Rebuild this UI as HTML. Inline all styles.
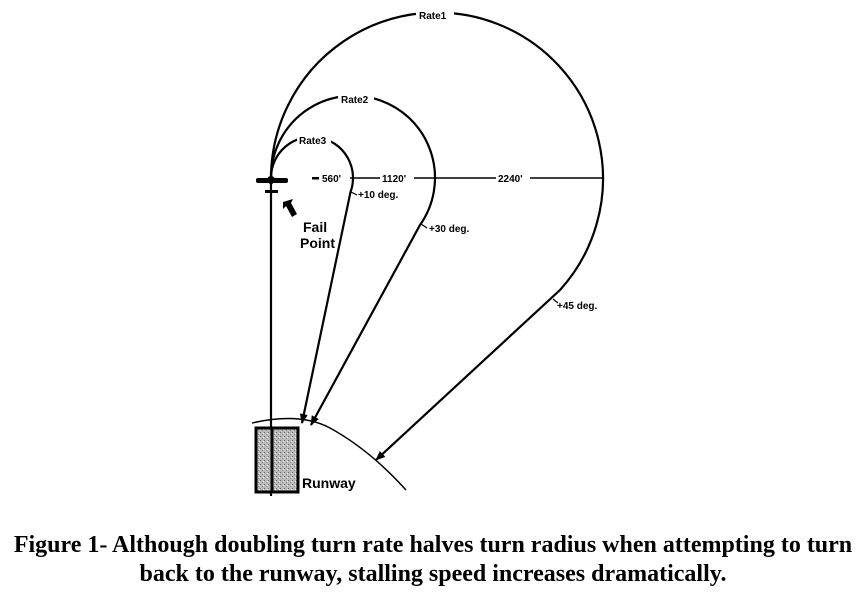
<!DOCTYPE html>
<html><head><style>
body{margin:0;background:#fff;width:866px;height:605px;overflow:hidden}
.cap{position:absolute;left:0;width:866px;text-align:center;font-family:"Liberation Serif",serif;font-weight:bold;font-size:24px;color:#000;white-space:nowrap}
</style></head><body>
<svg width="866" height="605" style="position:absolute;left:0;top:0" font-family="Liberation Sans, sans-serif">
<defs>
<marker id="a" markerWidth="10" markerHeight="8" refX="9" refY="4" orient="auto" markerUnits="userSpaceOnUse"><path d="M0,0L10,4L0,8z" fill="#000"/></marker>
<pattern id="st" width="4" height="4" patternUnits="userSpaceOnUse"><rect width="4" height="4" fill="#bbb"/><rect x="0" y="0" width="1" height="1" fill="#666"/><rect x="2" y="2" width="1" height="1" fill="#888"/><rect x="3" y="1" width="1" height="1" fill="#eee"/></pattern>
</defs>
<g fill="none" stroke="#000" stroke-width="2.2">
<path d="M271,178 A166,166 0 1 1 560,290 L376,460" marker-end="url(#a)"/>
<path d="M271,178 A82,82 0 1 1 420,225 L311,425" marker-end="url(#a)"/>
<path d="M271,178 A41,41 0 1 1 350.5,192 L302,423" marker-end="url(#a)"/>
<path d="M252,423 Q300,412 330,428 Q370,450 406,490" stroke-width="1.5"/>
<line x1="271" y1="172" x2="271" y2="496"/>
<line x1="339" y1="178" x2="603" y2="178" stroke-width="1.5"/>
</g>
<rect x="256" y="428" width="42" height="64" fill="url(#st)" stroke="#000" stroke-width="3"/>
<line x1="272" y1="428" x2="272" y2="493" stroke="#000" stroke-width="3"/>
<rect x="312" y="177" width="7" height="2.5" fill="#000"/>
<rect x="256" y="178" width="32" height="5" rx="2" fill="#000"/>
<circle cx="271" cy="180" r="4" fill="#000"/>
<rect x="265" y="190" width="13" height="3" fill="#000"/>
<path d="M283,202 L293,199 L291,203 L297,214 L292,217 L286,206 L283,209z" fill="#000"/>
<g font-size="10" font-weight="bold" fill="#000">
<rect x="416" y="10" width="38" height="12" fill="#fff"/><text x="419" y="19">Rate1</text>
<rect x="338" y="94" width="36" height="12" fill="#fff"/><text x="341" y="103">Rate2</text>
<rect x="297" y="135" width="34" height="12" fill="#fff"/><text x="299" y="144">Rate3</text>
<rect x="320" y="172" width="30" height="12" fill="#fff"/><text x="322" y="182">560'</text>
<rect x="380" y="172" width="34" height="12" fill="#fff"/><text x="382" y="182">1120'</text>
<rect x="496" y="172" width="34" height="12" fill="#fff"/><text x="498" y="182">2240'</text>
<text x="358" y="198">+10 deg.</text>
<text x="429" y="232">+30 deg.</text>
<text x="557" y="309">+45 deg.</text>
</g>
<g stroke="#000" stroke-width="1.2"><path d="M351,192 l6,3"/><path d="M421,224 l6,4"/><path d="M553,299 l5,4"/></g>
<g font-size="14" font-weight="bold" fill="#000"><text x="303" y="232">Fail</text><text x="300" y="248">Point</text></g>
<text x="302" y="488" font-size="14" font-weight="bold">Runway</text>
</svg>
<div class="cap" style="top:532px">Figure 1- Although doubling turn rate halves turn radius when attempting to turn</div>
<div class="cap" style="top:561px">back to the runway, stalling speed increases dramatically.</div>
</body></html>
